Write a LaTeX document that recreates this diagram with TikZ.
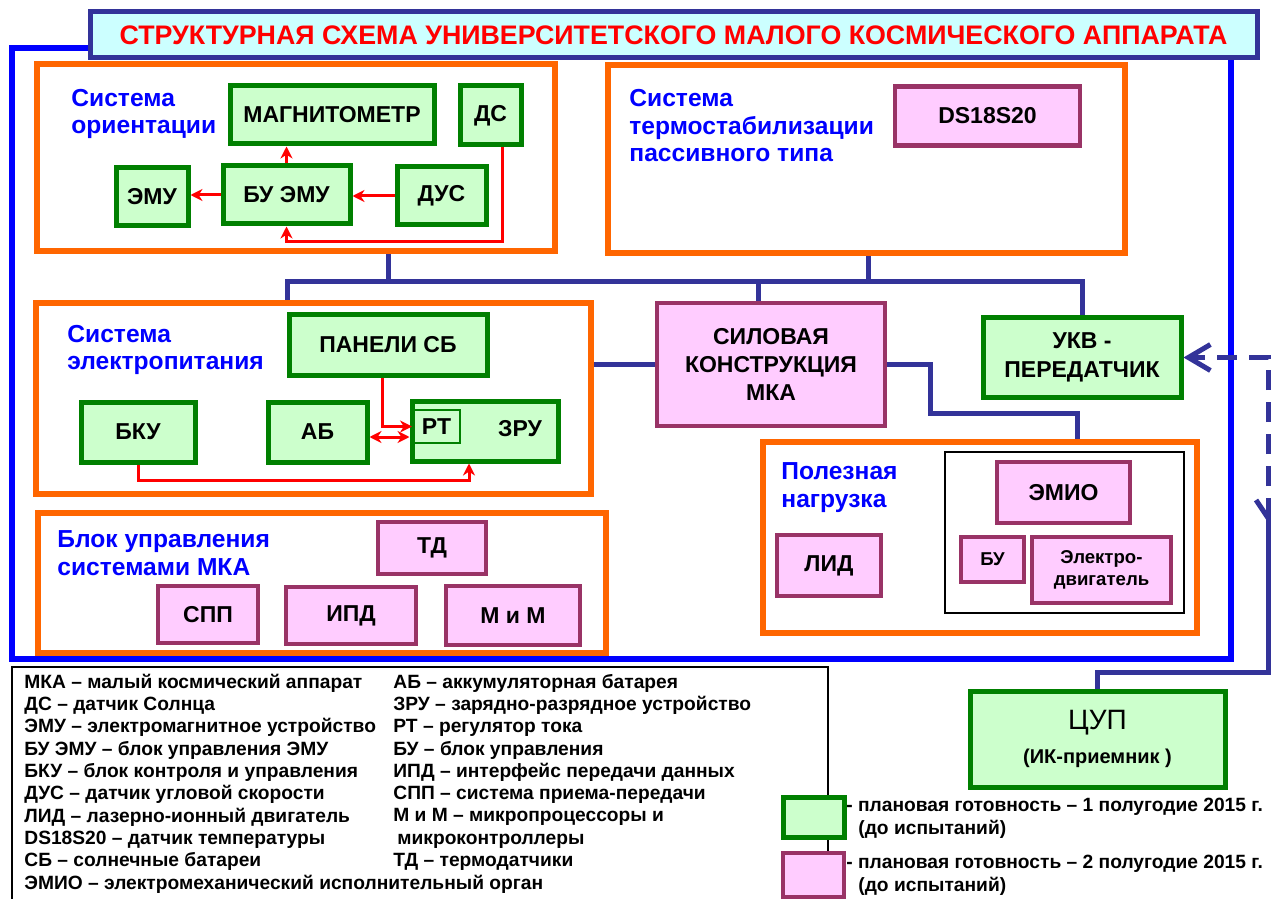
\documentclass[tikz,border=0pt]{standalone}
\usepackage{fontspec}
\setmainfont{Liberation Sans}
\usetikzlibrary{arrows.meta}
\definecolor{gfill}{HTML}{CCFFCC}
\definecolor{gline}{HTML}{008000}
\definecolor{pfill}{HTML}{FFCCFF}
\definecolor{pline}{HTML}{993366}
\definecolor{orng}{HTML}{FF6600}
\definecolor{navy}{HTML}{333399}
\definecolor{frblue}{HTML}{0000FF}
\definecolor{tfill}{HTML}{CCFFFF}

\begin{document}
\begin{tikzpicture}[
x=0.5pt,y=-0.5pt,
>={Stealth[length=6pt,width=6pt]},
wh/.style 2 args={minimum width=#1pt,minimum height=#2pt},
gbox/.style={draw=gline,fill=gfill,line width=2.5pt,inner sep=0pt,align=center,font=\bfseries\fontsize{11.5}{14.2}\selectfont},
pbox/.style={draw=pline,fill=pfill,line width=2.2pt,inner sep=0pt,align=center,font=\bfseries\fontsize{11.5}{14.2}\selectfont},
smtext/.style={font=\bfseries\fontsize{9.3}{11}\selectfont},
sysbox/.style={draw=orng,line width=3.3pt,inner sep=0pt},
syslabel/.style={anchor=base west,inner sep=0pt,align=left,text=frblue,font=\bfseries\fontsize{12.3}{13.75}\selectfont},
bus/.style={draw=navy,line width=2.5pt},
sig/.style={draw=red,line width=1.5pt,->},
legtext/.style={anchor=base west,inner sep=0pt,align=left,font=\bfseries\fontsize{9.6}{11.15}\selectfont}
]
\path[use as bounding box,fill=white] (0,0) rectangle (1271,899);

% title and outer frame
\node[draw=navy,fill=tfill,line width=2.5pt,wh={583.5}{23},inner sep=0pt,text=red,
  font=\bfseries\fontsize{13.4}{16}\selectfont] (title) at (673.5,35)
  {СТРУКТУРНАЯ СХЕМА УНИВЕРСИТЕТСКОГО МАЛОГО КОСМИЧЕСКОГО АППАРАТА};
\draw[draw=frblue,line width=3.3pt] (title.west |- 0,48) -| (12,659) -| (title.south -| 1231,0);

% subsystems
\node[sysbox,wh={259}{93.5}] (ori) at (296,157.5) {};
\node[sysbox,wh={258.5}{94}] (term) at (866.5,159) {};
\node[sysbox,wh={277.5}{95.5}] (pow) at (313.5,398.5) {};
\node[sysbox,wh={284}{70}] (ctrl) at (322,583) {};
\node[sysbox,wh={217}{95.5}] (pay) at (980,537.5) {};

% labels are placed by the baseline of their last line
\node[syslabel] (oriT) at (71,134) {Система\\ориентации};
\node[syslabel] (termT) at (629,162) {Система\\термостабилизации\\пассивного типа};
\node[syslabel] (powT) at (67,370) {Система\\электропитания};
\node[syslabel] (ctrlT) at (57,575) {Блок управления\\системами МКА};
\node[syslabel] (payT) at (781,507) {Полезная\\нагрузка};

% orientation
\node[gbox,wh={102}{29}] (mag) at (332,115) {МАГНИТОМЕТР};
\node[gbox,wh={30.5}{29.5}] (ds) at (490.5,115.5) {ДС};
\node[gbox,wh={36}{29}] (emu) at (152,197) {ЭМУ};
\node[gbox,wh={63.5}{29}] (buemu) at (286.5,195) {БУ ЭМУ};
\node[gbox,wh={44.5}{29}] (dus) at (441.5,196) {ДУС};

\draw[sig] (buemu.north) -- (buemu.north |- mag.south);
\draw[sig] (buemu.west) -- (buemu.west -| emu.east);
\draw[sig] (dus.west) -- (dus.west -| buemu.east);
\draw[sig] (ds.south -| 502,0) -- (502,242) -| (buemu.south);

% thermal
\node[pbox,wh={92.5}{29.5}] (ds18) at (987.5,116) {DS18S20};

% power
\node[gbox,wh={99}{30}] (panels) at (388,345) {ПАНЕЛИ СБ};
\node[gbox,wh={57}{30}] (bku) at (138,432) {БКУ};
\node[gbox,wh={49.5}{30}] (ab) at (317.5,432) {АБ};
\node[gbox,wh={73}{30}] (zru) at (485,431) {};
\node[draw=gline,line width=1pt,wh={23.5}{16.5},inner sep=0pt,anchor=north west,
  font=\bfseries\fontsize{11.5}{14}\selectfont] (rt) at (412,409) {РТ};
\node[font=\bfseries\fontsize{11.5}{14}\selectfont] (zruT) at (520,429) {ЗРУ};

\draw[sig] (panels.south -| 382,0) |- (rt.west);
\draw[sig,<->] (ab.east |- 0,437) -- (zru.west |- 0,437);
\draw[sig] (bku.south) |- (469,480) -- (zru.south -| 469,0);

% control unit
\node[pbox,wh={54}{26}] (td) at (432,548) {ТД};
\node[pbox,wh={50}{28.5}] (spp) at (208,614.5) {СПП};
\node[pbox,wh={65}{28.5}] (ipd) at (351,615.5) {ИПД};
\node[pbox,wh={67}{29.5}] (mim) at (513,615.5) {М и М};

% structure, radio
\node[pbox,wh={114}{61.5}] (sil) at (771,364.5) {СИЛОВАЯ\\КОНСТРУКЦИЯ\\МКА};
\node[gbox,wh={99}{39.5}] (ukv) at (1082,357.5) {УКВ -\\ПЕРЕДАТЧИК};

% payload
\node[pbox,wh={52}{30.5}] (lid) at (829,565.5) {ЛИД};
\node[draw,line width=1.2pt,wh={119.5}{80.5}] (emgrp) at (1064.5,532.5) {};
\node[pbox,wh={66.5}{30.5}] (emio) at (1063.5,492.5) {ЭМИО};
\node[pbox,smtext,wh={31.5}{22.5}] (bu) at (992.5,559.5) {БУ};
\node[pbox,smtext,wh={69.5}{33}] (edv) at (1101.5,570) {Электро-\\двигатель};

% bus
\draw[bus] (ori.south -| 388,0) -- (388,282);
\draw[bus] (term.south -| 868,0) -- (868,282);
\draw[bus] (pow.north -| 287,0) |- (ukv.north |- 0,282) -- (ukv.north);
\draw[bus] (sil.north -| 758,0) -- (758,282);
\draw[bus] (pow.east |- sil.west) -- (sil.west);
\draw[bus] (sil.east) -| (930,413) -| (pay.north -| 1077,0);

% ground station link
\node[gbox,wh={127.5}{48}] (cup) at (1097.5,739)
  {{\mdseries\fontsize{14}{16}\selectfont ЦУП}\\[3pt]{\fontsize{10}{12}\selectfont (ИК-приемник )}};
\coordinate (ant) at (1268,518);
\draw[bus] (cup.north) |- (1268,672) -- (ant);
\draw[bus] (ant) -- ++(-12,-18);
\draw[bus,dash pattern=on 10pt off 6pt,-{Straight Barb[length=11pt,width=13pt]}] (ant) |- (ukv.east);

% legend
\draw[line width=0.6pt] (12,899) |- (828,667) -- (828,899);
\node[legtext] (legL) at (24,889) {МКА – малый космический аппарат\\ДС – датчик Солнца\\ЭМУ – электромагнитное устройство\\БУ ЭМУ – блок управления ЭМУ\\БКУ – блок контроля и управления\\ДУС – датчик угловой скорости\\ЛИД – лазерно-ионный двигатель\\DS18S20 – датчик температуры\\СБ – солнечные батареи\\ЭМИО – электромеханический исполнительный орган};
\node[legtext] (legR) at (393,866.5) {АБ – аккумуляторная батарея\\ЗРУ – зарядно-разрядное устройство\\РТ – регулятор тока\\БУ – блок управления\\ИПД – интерфейс передачи данных\\СПП – система приема-передачи\\М и М – микропроцессоры и\\\hspace*{2pt}микроконтроллеры\\ТД – термодатчики};

\node[gbox,wh={30.5}{20}] (gsw) at (813.5,817) {};
\node[pbox,wh={30.5}{22}] (psw) at (813.5,875) {};
\node[legtext] (gtxt) at (846,834) {- плановая готовность – 1 полугодие 2015 г.\\\hspace*{6pt}(до испытаний)};
\node[legtext] (ptxt) at (846,891) {- плановая готовность – 2 полугодие 2015 г.\\\hspace*{6pt}(до испытаний)};
\end{tikzpicture}
\end{document}
